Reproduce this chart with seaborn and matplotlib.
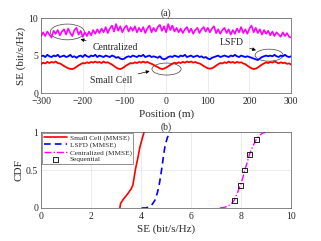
import matplotlib
matplotlib.use("Agg")
import matplotlib.pyplot as plt
from matplotlib.patches import Ellipse
import seaborn as sns
import numpy as np
import pandas as pd

# ---- (a) SE versus position, 5 m step ----
position = np.arange(-300, 301, 5)

se_centralized = [
    7.6, 8.1, 7.6, 8.2, 7.8, 7.4, 8.3, 7.9, 8.4, 7.7, 8.2,
    8.5, 7.8, 8.6, 8.0, 7.6, 8.4, 8.7, 7.8, 8.3, 7.5, 8.1,
    7.6, 8.2, 7.7, 8.4, 7.9, 8.5, 8.0, 8.6, 8.1, 8.8, 8.0,
    8.6, 9.0, 8.2, 9.2, 8.3, 8.9, 8.1, 8.7, 9.0, 8.2, 8.8,
    8.3, 8.9, 8.1, 8.7, 8.2, 8.8, 8.0, 8.6, 9.0, 8.1, 8.7,
    8.2, 8.8, 9.1, 8.3, 8.9, 8.1, 9.2, 8.4, 9.0, 8.2, 8.7,
    8.1, 8.6, 8.0, 8.5, 8.8, 8.1, 8.6, 7.9, 8.4, 8.7, 8.0,
    8.5, 8.8, 8.2, 8.7, 8.1, 8.6, 8.9, 8.0, 8.5, 7.9, 8.4,
    8.7, 8.0, 8.5, 7.8, 8.4, 7.9, 8.6, 8.1, 8.8, 8.0, 8.5,
    7.9, 8.6, 9.0, 8.1, 8.7, 8.0, 8.5, 7.8, 8.4, 7.9, 8.3,
    7.7, 8.2, 7.6, 8.1, 7.8, 7.5, 8.1, 7.6, 8.0, 7.5, 7.4,
]

se_lsfd = [
    4.9, 5.0, 4.8, 5.1, 4.9, 4.8, 5.0, 4.9, 5.1, 4.8, 4.9,
    5.0, 4.8, 4.9, 5.1, 4.8, 4.9, 4.7, 4.9, 5.0, 4.8, 5.1,
    4.9, 4.8, 5.0, 4.9, 5.1, 4.8, 5.0, 4.9, 4.8, 5.0, 4.9,
    4.8, 5.0, 4.9, 4.7, 4.8, 4.6, 4.5, 4.6, 4.8, 4.9, 4.8,
    5.0, 4.9, 4.8, 5.0, 4.9, 5.1, 4.8, 4.9, 5.0, 4.8, 4.9,
    4.8, 4.7, 4.9, 4.6, 4.5, 4.6, 4.8, 4.9, 4.8, 5.0, 4.9,
    4.8, 5.0, 4.9, 5.1, 4.8, 4.9, 5.0, 4.8, 4.9, 5.0, 4.8,
    4.9, 4.7, 4.8, 4.6, 4.5, 4.7, 4.8, 4.9, 5.0, 4.8, 4.9,
    5.0, 4.9, 4.8, 5.0, 4.9, 5.1, 4.9, 4.8, 5.0, 4.9, 4.8,
    4.9, 4.8, 4.7, 4.6, 4.5, 4.4, 4.6, 4.8, 4.9, 5.0, 4.9,
    5.0, 4.9, 5.1, 4.9, 4.8, 5.0, 4.9, 5.1, 4.9, 4.8, 4.9,
]

se_small_cell = [
    3.85, 4.05, 3.95, 4.15, 4.0, 4.15, 4.05, 4.2, 4.0, 3.95, 3.8,
    3.6, 3.45, 3.3, 3.22, 3.2, 3.3, 3.5, 3.7, 3.85, 4.0, 3.95,
    4.1, 4.0, 4.15, 4.05, 4.2, 4.05, 4.15, 4.0, 4.2, 4.05, 4.1,
    3.95, 3.8, 3.6, 3.4, 3.25, 3.2, 3.3, 3.5, 3.7, 3.85, 4.0,
    3.95, 4.1, 4.0, 4.15, 4.05, 4.2, 4.05, 4.15, 4.0, 3.9, 3.75,
    3.6, 3.45, 3.3, 3.2, 3.25, 3.4, 3.55, 3.75, 3.9, 4.05, 3.95,
    4.1, 4.0, 4.15, 4.05, 4.2, 4.1, 4.2, 4.05, 4.15, 4.0, 3.95,
    3.8, 3.6, 3.45, 3.3, 3.25, 3.3, 3.45, 3.65, 3.85, 4.0, 3.95,
    4.1, 4.0, 4.2, 4.05, 4.15, 4.0, 4.15, 4.05, 4.1, 3.95, 3.85,
    3.65, 3.45, 3.3, 3.2, 3.25, 3.4, 3.6, 3.8, 3.95, 4.1, 4.0,
    4.15, 4.05, 4.2, 4.1, 3.95, 4.1, 4.0, 4.05, 3.9, 3.95, 3.8,
]

# ---- (b) CDF of SE ----
cdf_small_x = [3.15, 3.18, 3.3, 3.45, 3.6, 3.67, 3.72, 3.78, 3.87, 3.95, 4.05, 4.12]
cdf_small_y = [0, 0.06, 0.12, 0.18, 0.25, 0.3, 0.4, 0.52, 0.66, 0.8, 0.92, 1.0]

cdf_lsfd_x = [4.02, 4.2, 4.35, 4.45, 4.55, 4.65, 4.72, 4.78, 4.84, 4.9, 4.96, 5.05, 5.2]
cdf_lsfd_y = [0, 0.0, 0.02, 0.05, 0.1, 0.2, 0.3, 0.42, 0.55, 0.7, 0.82, 0.93, 1.0]

cdf_central_x = [7.15, 7.35, 7.5, 7.62, 7.72, 7.85, 7.97, 8.07, 8.15, 8.24, 8.33,
                 8.45, 8.6, 8.72, 8.85, 9.0, 9.25]
cdf_central_y = [0, 0.01, 0.03, 0.06, 0.1, 0.2, 0.3, 0.4, 0.5, 0.6, 0.7,
                 0.8, 0.9, 0.95, 0.985, 0.998, 1.0]

seq_x = [7.72, 7.97, 8.15, 8.33, 8.62]
seq_y = [0.1, 0.3, 0.5, 0.7, 0.9]

sns.set_theme(style="whitegrid")
plt.rcParams['font.family'] = ['Liberation Serif', 'DejaVu Serif']

fig = plt.figure(figsize=(3.21, 2.41), dpi=100)
ax1 = fig.add_axes([0.128, 0.614, 0.779, 0.311])
ax2 = fig.add_axes([0.128, 0.137, 0.779, 0.315])

df_a = pd.DataFrame({'pos': position, 'cen': se_centralized,
                     'lsfd': se_lsfd, 'sc': se_small_cell})

sns.lineplot(data=df_a, x='pos', y='cen', ax=ax1, color='#ff00ff', lw=1.2)
sns.lineplot(data=df_a, x='pos', y='lsfd', ax=ax1, color='#0000ff', lw=1.3)
sns.lineplot(data=df_a, x='pos', y='sc', ax=ax1, color='#ff0000', lw=1.3)

ax1.set_xlim(-300, 300)
ax1.set_ylim(0, 10)
ax1.set_xticks(range(-300, 301, 100))
ax1.set_yticks([0, 5, 10])
ax1.set_xlabel('Position (m)', fontsize=8, labelpad=2)
ax1.set_ylabel('SE (bit/s/Hz)', fontsize=8, labelpad=2)
ax1.set_title('(a)', fontsize=7, pad=2)

# ellipses + arrows
ell_kw = dict(fill=False, edgecolor='#404040', lw=0.5)
ax1.add_patch(Ellipse((-237, 8.15), 82, 2.1, **ell_kw))
ax1.add_patch(Ellipse((247, 5.05), 67, 1.6, **ell_kw))
ax1.add_patch(Ellipse((1, 3.2), 70, 1.6, **ell_kw))
arr = dict(arrowstyle='-|>', color='black', lw=0.5, mutation_scale=5)
ax1.annotate('Centralized', xy=(-212, 7.25), xytext=(-123, 6.1),
             fontsize=7, ha='center', va='center', arrowprops=arr)
ax1.annotate('LSFD', xy=(222, 5.6), xytext=(158, 6.7),
             fontsize=7, ha='center', va='center', arrowprops=arr)
ax1.annotate('Small Cell', xy=(-33, 3.0), xytext=(-132, 1.7),
             fontsize=7, ha='center', va='center', arrowprops=arr)

sns.lineplot(x=cdf_small_x, y=cdf_small_y, ax=ax2, color='#ff0000', lw=1.2,
             sort=False, estimator=None, label='Small Cell (MMSE)')
sns.lineplot(x=cdf_lsfd_x, y=cdf_lsfd_y, ax=ax2, color='#0000ff', lw=1.2,
             sort=False, estimator=None, label='LSFD (MMSE)')
ax2.lines[-1].set_linestyle((0, (4, 2.5)))
sns.lineplot(x=cdf_central_x, y=cdf_central_y, ax=ax2, color='#ff00ff', lw=1.0,
             sort=False, estimator=None, label='Centralized (MMSE)')
ax2.lines[-1].set_linestyle((0, (5, 1.5, 1, 1.5)))
sns.scatterplot(x=seq_x, y=seq_y, ax=ax2, marker='s', s=12, facecolor='none',
                edgecolor='black', linewidth=0.6, label='Sequential', zorder=3)

ax2.set_xlim(0, 10)
ax2.set_ylim(0, 1)
ax2.set_xticks(range(0, 11, 2))
ax2.set_yticks([0, 0.5, 1])
ax2.set_yticklabels(['0', '0.5', '1'])
ax2.set_xlabel('SE (bit/s/Hz)', fontsize=8, labelpad=2)
ax2.set_ylabel('CDF', fontsize=8, labelpad=2)
ax2.set_title('(b)', fontsize=7, pad=2)
leg = ax2.legend(loc='upper left', fontsize=5.2, frameon=True, fancybox=False,
                 borderpad=0.25, labelspacing=0.12, handlelength=3.2,
                 handletextpad=0.4, borderaxespad=0.1)
leg.get_frame().set_edgecolor('#404040')
leg.get_frame().set_linewidth(0.5)

for ax in (ax1, ax2):
    ax.tick_params(labelsize=7, length=0)
    ax.tick_params(axis='x', pad=3)
    ax.tick_params(axis='y', pad=2)
    ax.grid(True, color='#e3e3e3', lw=0.5)
    for sp in ax.spines.values():
        sp.set_color('#555555')
        sp.set_linewidth(0.5)

fig.savefig('out.png', dpi=100)
